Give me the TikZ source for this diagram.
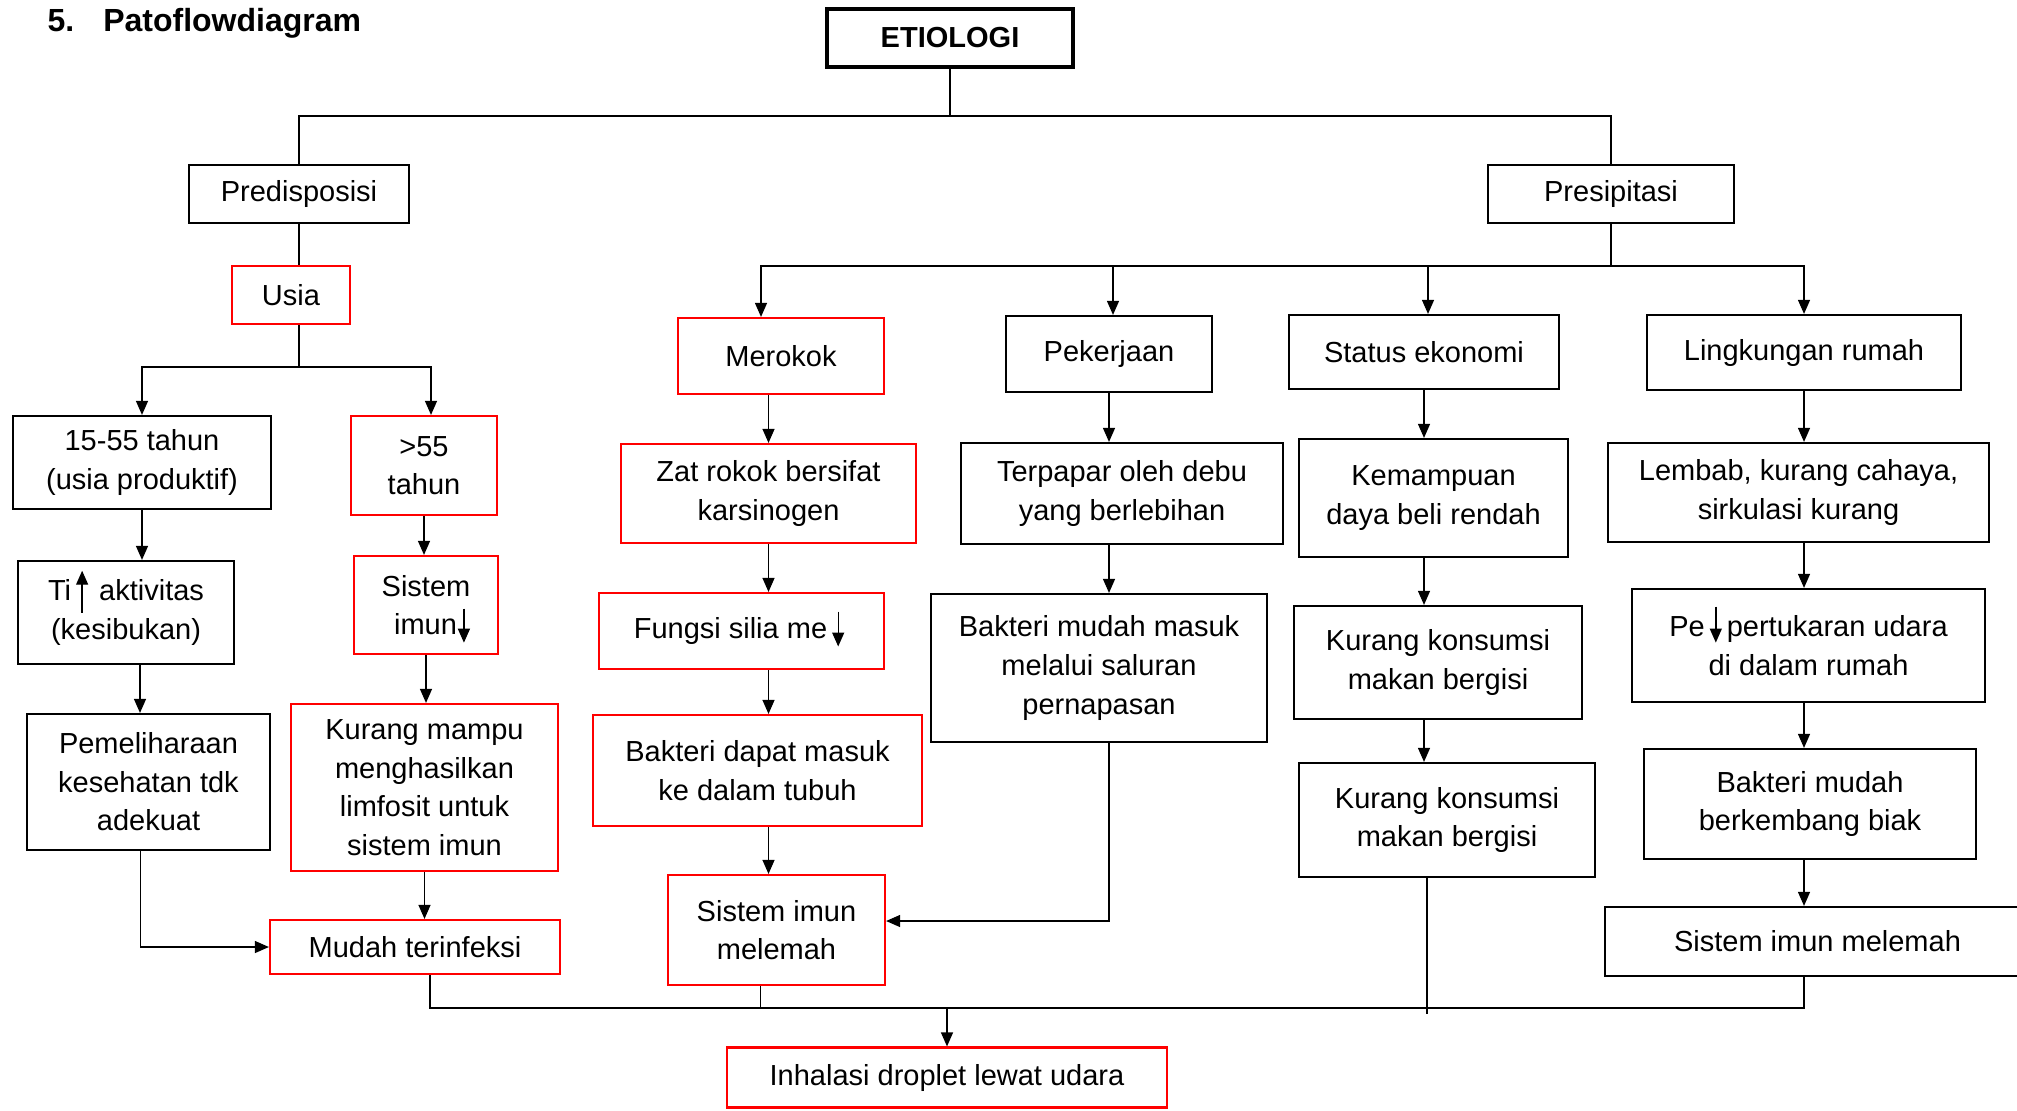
\documentclass[tikz,border=0pt]{standalone}
\usepackage{fontspec}
\setmainfont{Liberation Sans}
\usetikzlibrary{arrows.meta}
\tikzstyle{block} = [draw, line width=1.1pt, rectangle, inner sep=2pt, align=center, font=\fontsize{14.5}{19.3}\selectfont]
\tikzstyle{blockr} = [block, draw=red]
% panah kecil di dalam teks
\newcommand{\panah}[2]{\hspace{2.5pt}\smash{\tikz[baseline=0pt]\draw[line width=0.7pt,-{Triangle[length=7pt,width=6pt]}] (0pt,#1) -- (0pt,#2);}\hspace{2.5pt}}

\begin{document}
\begin{tikzpicture}[x=0.5pt,y=-0.5pt,line width=0.6pt,>={Triangle[length=7pt,width=6pt]}]
	\useasboundingbox (0,0) rectangle (2017,1110);
	\node (title) [anchor=base west, inner sep=0, font=\bfseries\fontsize{16}{19}\selectfont] at (47,31) {5.\hspace{14.5pt}Patoflowdiagram};
	\node (etio) [block, line width=1.6pt, font=\bfseries\fontsize{14.5}{19.3}\selectfont, minimum width=123pt, minimum height=29pt] at (950,38) {ETIOLOGI};
	\node (pred) [block, minimum width=110pt, minimum height=29pt] at (299,194) {Predisposisi};
	\node (pres) [block, minimum width=123pt, minimum height=29pt] at (1611,194) {Presipitasi};
	
	% predisposisi
	\node (usia) [blockr, minimum width=59pt, minimum height=29pt] at (291,295) {Usia};
	\node (prod) [block, minimum width=129pt, minimum height=46.5pt] at (142,462.5) {15-55 tahun\\(usia produktif)};
	\node (tua) [blockr, minimum width=73pt, minimum height=49.5pt] at (424,465.5) {>55\\tahun};
	\node (akt) [block, minimum width=108pt, minimum height=51.5pt] at (126,612.5) {Ti\panah{-6pt}{15pt}\hspace{-1pt} aktivitas\\(kesibukan)};
	\node (imun) [blockr, minimum width=72pt, minimum height=49pt] at (426,605) {Sistem\\\hspace{6pt}imun\hspace{-2pt}\panah{13pt}{-4pt}};
	\node (pem) [block, minimum width=121.5pt, minimum height=68pt] at (148.5,782) {Pemeliharaan\\kesehatan tdk\\adekuat};
	\node (limf) [blockr, minimum width=133.5pt, minimum height=83.5pt] at (424.5,787.5) {Kurang mampu\\menghasilkan\\limfosit untuk\\sistem imun};
	\node (mudah) [blockr, minimum width=145pt, minimum height=27pt] at (415,947) {Mudah terinfeksi};
	
	% presipitasi
	\node (rokok) [blockr, minimum width=103pt, minimum height=38pt] at (781,356) {Merokok};
	\node (zat) [blockr, minimum width=147.5pt, minimum height=49.5pt] at (768.5,493.5) {Zat rokok bersifat\\karsinogen};
	\node (silia) [blockr, minimum width=142.5pt, minimum height=38pt] at (741.5,631) {Fungsi silia me\panah{13.5pt}{-4pt}};
	\node (tubuh) [blockr, minimum width=164.5pt, minimum height=55.5pt] at (757.5,770.5) {Bakteri dapat masuk\\ke dalam tubuh};
	\node (lemah) [blockr, minimum width=108.5pt, minimum height=55pt] at (776.5,930) {Sistem imun\\melemah};
	
	\node (kerja) [block, minimum width=103pt, minimum height=38pt] at (1109,354) {Pekerjaan};
	\node (debu) [block, minimum width=161pt, minimum height=50.5pt] at (1122,493.5) {Terpapar oleh debu\\yang berlebihan};
	\node (napas) [block, minimum width=168pt, minimum height=74pt] at (1099,668) {Bakteri mudah masuk\\melalui saluran\\pernapasan};
	
	\node (eko) [block, minimum width=135pt, minimum height=37pt] at (1424,352) {Status ekonomi};
	\node (beli) [block, minimum width=134.5pt, minimum height=59pt] at (1433.5,498) {Kemampuan\\daya beli rendah};
	\node (gizi) [block, minimum width=144pt, minimum height=56.5pt] at (1438,662.5) {Kurang konsumsi\\makan bergisi};
	\node (gizib) [block, minimum width=148pt, minimum height=57pt] at (1447,820) {Kurang konsumsi\\makan bergisi};
	
	\node (rumah) [block, minimum width=157pt, minimum height=37.5pt] at (1804,352.5) {Lingkungan rumah};
	\node (lembab) [block, minimum width=190.5pt, minimum height=49.5pt] at (1798.5,492.5) {Lembab, kurang cahaya,\\sirkulasi kurang};
	\node (udara) [block, minimum width=176.5pt, minimum height=56.5pt] at (1808.5,645.5) {Pe\panah{15pt}{-3pt}pertukaran udara\\di dalam rumah};
	\node (biak) [block, minimum width=166pt, minimum height=55pt] at (1810,804) {Bakteri mudah\\berkembang biak};
	\node (lemahb) [block, minimum width=212.5pt, minimum height=34.5pt] at (1817.5,941.5) {Sistem imun melemah};
	
	\node (inh) [blockr, minimum width=220pt, minimum height=30pt] at (947,1077.5) {Inhalasi droplet lewat udara};
	
	\coordinate (jE) at (950,116);
	\coordinate (jU) at (299,367);
	\coordinate (jP) at (1611,266);
	\coordinate (jB) at (947,1008);
	\coordinate (kEnd) at (1427,1014);
	
	\draw (etio) -- (jE);
	\draw (pred.north) |- (jE) -| (pres.north);
	
	\draw (pred.south) -- (pred.south |- usia.north);
	\draw (pred.south |- usia.south) -- (jU);
	\draw [->] (jU) -| (prod.north);
	\draw [->] (jU) -| ([xshift=3.5pt]tua.north);
	\draw [->] (prod.south) -- (prod.south |- akt.north);
	\draw [->] ([xshift=7pt]akt.south) -- ([xshift=7pt]akt.south |- pem.north);
	\draw [->] (tua.south) -- (tua.south |- imun.north);
	\draw [->] (imun.south) -- (imun.south |- limf.north);
	\draw [->] (limf.south) -- (limf.south |- mudah.north);
	\draw [->] ([xshift=-4pt]pem.south) |- (mudah.west);
	
	\draw (pres.south) -- (jP);
	\draw [->] (jP) -| ([xshift=-10pt]rokok.north);
	\draw [->] (jP) -| ([xshift=2pt]kerja.north);
	\draw [->] (jP) -| ([xshift=2pt]eko.north);
	\draw [->] (jP) -| (rumah.north);
	
	\draw [->] (zat.north |- rokok.south) -- (zat.north);
	\draw [->] (zat.south) -- (zat.south |- silia.north);
	\draw [->] (zat.south |- silia.south) -- (zat.south |- tubuh.north);
	\draw [->] (zat.south |- tubuh.south) -- (zat.south |- lemah.north);
	
	\draw [->] (kerja.south) -- (kerja.south |- debu.north);
	\draw [->] (kerja.south |- debu.south) -- (kerja.south |- napas.north);
	\draw [->] (kerja.south |- napas.south) |- ([yshift=4.5pt]lemah.east);
	
	\draw [->] (eko.south) -- (eko.south |- beli.north);
	\draw [->] (eko.south |- beli.south) -- (eko.south |- gizi.north);
	\draw [->] (eko.south |- gizi.south) -- (eko.south |- gizib.north);
	\draw (kEnd |- gizib.south) -- (kEnd);
	
	\draw [->] (rumah.south) -- (rumah.south |- lembab.north);
	\draw [->] (rumah.south |- lembab.south) -- (rumah.south |- udara.north);
	\draw [->] (rumah.south |- udara.south) -- (rumah.south |- biak.north);
	\draw [->] (rumah.south |- biak.south) -- (rumah.south |- lemahb.north);
	
	\draw ([xshift=7.5pt]mudah.south) |- (jB);
	\draw ([xshift=-8pt]lemah.south) -- ([xshift=-8pt]lemah.south |- jB);
	\draw (rumah.south |- lemahb.south) |- (jB);
	\draw [->] (jB) -- (inh.north);
\end{tikzpicture}
\end{document}
